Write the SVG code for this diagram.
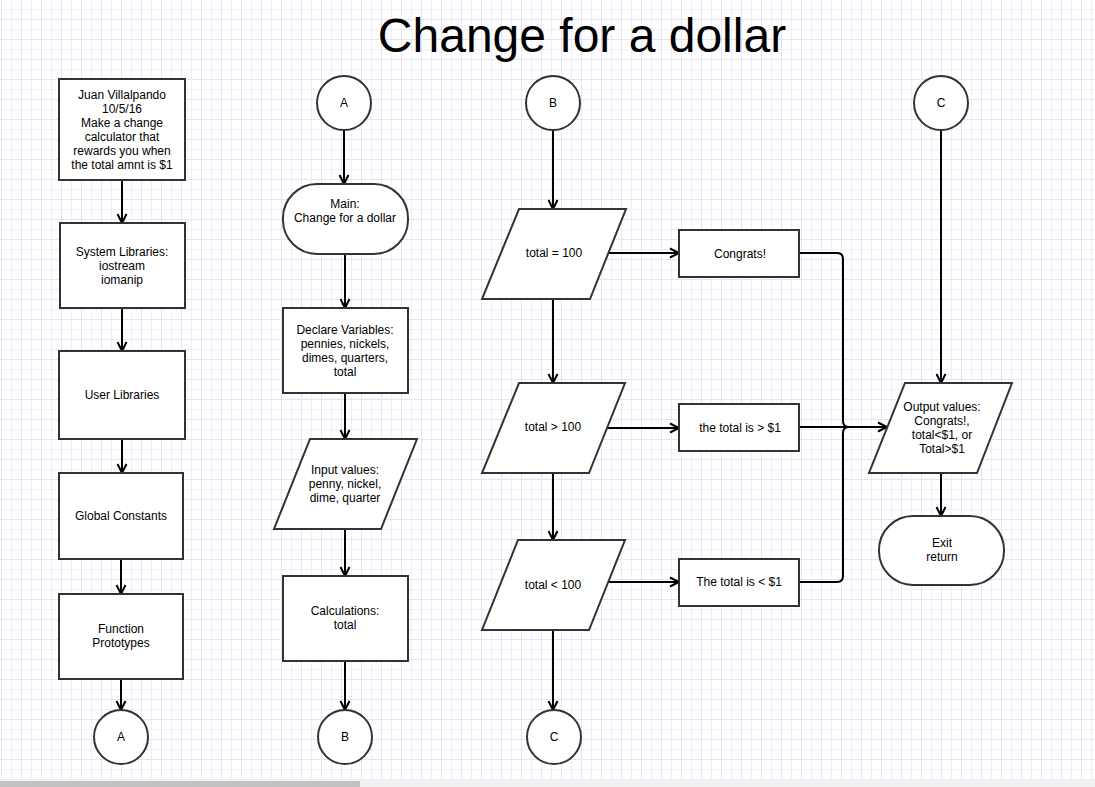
<svg xmlns="http://www.w3.org/2000/svg" width="1095" height="787" viewBox="0 0 1095 787">
<style>
.s{fill:#fff;stroke:#333;stroke-width:2}
.t{font-family:"Liberation Sans",Arial,sans-serif;font-size:12px;fill:#000;text-anchor:middle}
.c{fill:none;stroke:#000;stroke-width:2}
.title{font-family:"Liberation Sans",Arial,sans-serif;font-size:48px;fill:#000;text-anchor:middle}
</style>
<defs>
<pattern id="grid" width="20" height="20" patternUnits="userSpaceOnUse">
<rect width="20" height="20" fill="#fff"/>
<rect x="11" y="0" width="1" height="20" fill="#f0eefc"/>
<rect x="0" y="9" width="20" height="1" fill="#f0eefc"/>
<rect x="1" y="0" width="1" height="20" fill="#e6e3f8"/>
<rect x="0" y="19" width="20" height="1" fill="#e6e3f8"/>
</pattern>
<marker id="arr" markerUnits="userSpaceOnUse" markerWidth="14" markerHeight="14" viewBox="0 0 14 14" refX="11" refY="7" orient="auto">
<path d="M2,2.5 L11,7 L2,11.5" fill="none" stroke="#000" stroke-width="2"/>
</marker>
</defs>
<rect width="1095" height="787" fill="url(#grid)"/>
<text class="title" x="582" y="52">Change for a dollar</text>

<g id="connectors">
<path class="c" d="M122,180 V223" marker-end="url(#arr)"/>
<path class="c" d="M122,308 V351" marker-end="url(#arr)"/>
<path class="c" d="M122,439 V473" marker-end="url(#arr)"/>
<path class="c" d="M121,559 V594" marker-end="url(#arr)"/>
<path class="c" d="M121,679 V710" marker-end="url(#arr)"/>
<path class="c" d="M344,130 V184" marker-end="url(#arr)"/>
<path class="c" d="M345,254 V308" marker-end="url(#arr)"/>
<path class="c" d="M345,393 V439" marker-end="url(#arr)"/>
<path class="c" d="M345,529 V576" marker-end="url(#arr)"/>
<path class="c" d="M345,661 V710" marker-end="url(#arr)"/>
<path class="c" d="M553,130 V209" marker-end="url(#arr)"/>
<path class="c" d="M553,299 V383" marker-end="url(#arr)"/>
<path class="c" d="M553,473 V540" marker-end="url(#arr)"/>
<path class="c" d="M553,630 V710" marker-end="url(#arr)"/>
<path class="c" d="M607,253 H679" marker-end="url(#arr)"/>
<path class="c" d="M607,428 H679" marker-end="url(#arr)"/>
<path class="c" d="M607,582 H679" marker-end="url(#arr)"/>
<path class="c" d="M799,253 H837 Q843,253 843,259 V421 Q843,427 849,427"/>
<path class="c" d="M799,582 H837 Q843,582 843,576 V433 Q843,427 849,427"/>
<path class="c" d="M799,427 H887" marker-end="url(#arr)"/>
<path class="c" d="M941,130 V383" marker-end="url(#arr)"/>
<path class="c" d="M941,473 V516" marker-end="url(#arr)"/>
</g>

<g id="header">
<rect class="s" x="59" y="79" width="126" height="101"/>
<text class="t" x="122" y="99">Juan Villalpando</text>
<text class="t" x="122" y="113">10/5/16</text>
<text class="t" x="122" y="127">Make a change</text>
<text class="t" x="122" y="141">calculator that</text>
<text class="t" x="122" y="155">rewards you when</text>
<text class="t" x="122" y="169">the total amnt is $1</text>
</g>
<g id="syslib">
<rect class="s" x="60" y="223" width="125" height="85"/>
<text class="t" x="122" y="256">System Libraries:</text>
<text class="t" x="122" y="270">iostream</text>
<text class="t" x="122" y="284">iomanip</text>
</g>
<g id="userlib">
<rect class="s" x="59" y="351" width="126" height="88"/>
<text class="t" x="122" y="399">User Libraries</text>
</g>
<g id="globals">
<rect class="s" x="59" y="473" width="124" height="86"/>
<text class="t" x="121" y="520">Global Constants</text>
</g>
<g id="protos">
<rect class="s" x="59" y="594" width="124" height="85"/>
<text class="t" x="121" y="633">Function</text>
<text class="t" x="121" y="647">Prototypes</text>
</g>
<g id="offA1">
<ellipse class="s" cx="121" cy="737" rx="27" ry="27"/>
<text class="t" x="121" y="741">A</text>
</g>

<g id="onA">
<ellipse class="s" cx="344" cy="103" rx="27" ry="27"/>
<text class="t" x="344" y="107">A</text>
</g>
<g id="main">
<rect class="s" x="283" y="184" width="125" height="70" rx="34" ry="34"/>
<text class="t" x="345" y="208">Main:</text>
<text class="t" x="345" y="222">Change for a dollar</text>
</g>
<g id="declare">
<rect class="s" x="283" y="308" width="125" height="85"/>
<text class="t" x="345" y="334">Declare Variables:</text>
<text class="t" x="345" y="348">pennies, nickels,</text>
<text class="t" x="345" y="362">dimes, quarters,</text>
<text class="t" x="345" y="376">total</text>
</g>
<g id="input">
<polygon class="s" points="310,439 417,439 381,529 274,529"/>
<text class="t" x="345" y="474">Input values:</text>
<text class="t" x="345" y="488">penny, nickel,</text>
<text class="t" x="345" y="502">dime, quarter</text>
</g>
<g id="calc">
<rect class="s" x="283" y="576" width="125" height="85"/>
<text class="t" x="345" y="615">Calculations:</text>
<text class="t" x="345" y="629">total</text>
</g>
<g id="offB">
<ellipse class="s" cx="345" cy="737" rx="27" ry="27"/>
<text class="t" x="345" y="741">B</text>
</g>

<g id="onB">
<ellipse class="s" cx="553" cy="103" rx="27" ry="27"/>
<text class="t" x="553" y="107">B</text>
</g>
<g id="eq">
<polygon class="s" points="519,209 626,209 590,299 482,299"/>
<text class="t" x="554" y="257">total = 100</text>
</g>
<g id="gt">
<polygon class="s" points="519,383 625,383 589,473 482,473"/>
<text class="t" x="553" y="431">total &gt; 100</text>
</g>
<g id="lt">
<polygon class="s" points="518,540 625,540 589,630 482,630"/>
<text class="t" x="553" y="589">total &lt; 100</text>
</g>
<g id="offC">
<ellipse class="s" cx="554" cy="737" rx="27" ry="27"/>
<text class="t" x="554" y="741">C</text>
</g>
<g id="congrats">
<rect class="s" x="679" y="230" width="120" height="47"/>
<text class="t" x="740" y="258">Congrats!</text>
</g>
<g id="over">
<rect class="s" x="679" y="404" width="120" height="47"/>
<text class="t" x="740" y="432">the total is &gt; $1</text>
</g>
<g id="under">
<rect class="s" x="679" y="559" width="120" height="47"/>
<text class="t" x="739" y="586">The total is &lt; $1</text>
</g>

<g id="onC">
<ellipse class="s" cx="941" cy="103" rx="27" ry="27"/>
<text class="t" x="941" y="107">C</text>
</g>
<g id="output">
<polygon class="s" points="905,383 1012,383 977,473 869,473"/>
<text class="t" x="942" y="411">Output values:</text>
<text class="t" x="942" y="425">Congrats!,</text>
<text class="t" x="942" y="439">total&lt;$1, or</text>
<text class="t" x="942" y="453">Total&gt;$1</text>
</g>
<g id="exit">
<rect class="s" x="879" y="516" width="125" height="69" rx="34" ry="34"/>
<text class="t" x="942" y="547">Exit</text>
<text class="t" x="942" y="561">return</text>
</g>

<rect x="0" y="779" width="1095" height="8" fill="#f1f1f1"/>
<rect x="0" y="781" width="360" height="6" fill="#c1c1c1"/>
</svg>
